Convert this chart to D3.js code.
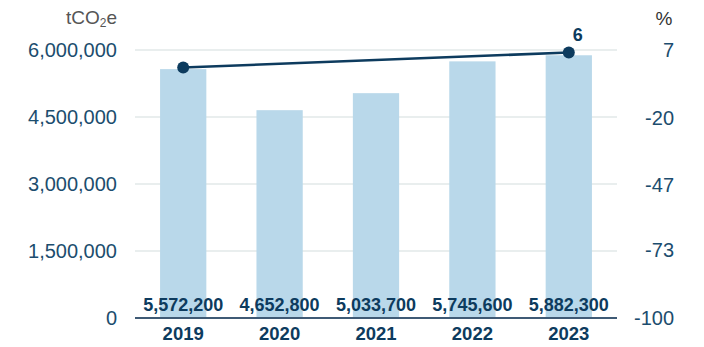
<!DOCTYPE html>
<html>
<head>
<meta charset="utf-8">
<script src="https://cdn.jsdelivr.net/npm/d3@7"></script>
<style>
    body { margin: 0; background: #fff; }
    svg { font-family: "Liberation Sans", Arial, sans-serif; }
</style>
</head>
<body>
<svg id="chart" width="704" height="347"></svg>
<script>
var years = ["2019", "2020", "2021", "2022", "2023"]
var emissions = [5572200, 4652800, 5033700, 5745600, 5882300]
var pctChange = [0, null, null, null, 6]
var leftTicks = [0, 1500000, 3000000, 4500000, 6000000]
var rightTicks = [-100, -73, -47, -20, 7]

const navy = "#0d3b5e"
const axisColor = "#1c4d6e"

var svg = d3.select("#chart")
const margins = {top: 50, right: 87, bottom: 29, left: 135}
const width = 704, height = 347

var xScale = d3.scaleBand()
    .domain(years)
    .range([margins.left, width - margins.right])
    .paddingInner(0.52)
    .paddingOuter(0.26)

var yLeft = d3.scaleLinear()
    .domain([0, 6000000])
    .range([height - margins.bottom, margins.top])

var yRight = d3.scaleLinear()
    .domain([-100, 7])
    .range([height - margins.bottom, margins.top])

// grid lines
svg.append("g").selectAll("line")
    .data(leftTicks.slice(1))
    .join("line")
    .attr("x1", margins.left)
    .attr("x2", width - margins.right)
    .attr("y1", d => yLeft(d))
    .attr("y2", d => yLeft(d))
    .attr("stroke", "#e2e8e8")
    .attr("stroke-width", 1.5)

// left axis
var leftAxis = d3.axisLeft(yLeft).tickValues(leftTicks).tickSize(0).tickPadding(0)
    .tickFormat(d3.format(","))
svg.append("g")
    .attr("transform", "translate(117,0)")
    .call(leftAxis)
    .call(g => g.select(".domain").remove())
    .selectAll("text")
    .attr("fill", axisColor)
    .attr("font-size", 20)
    .attr("font-family", "Liberation Sans, Arial, sans-serif")

// right axis
var rightAxis = d3.axisRight(yRight).tickValues(rightTicks).tickSize(0).tickPadding(0)
    .tickFormat(d => String(d))
svg.append("g")
    .attr("transform", "translate(674,0)")
    .call(rightAxis)
    .call(g => g.select(".domain").remove())
    .selectAll("text")
    .attr("text-anchor", "end")
    .attr("fill", axisColor)
    .attr("font-size", 20)
    .attr("font-family", "Liberation Sans, Arial, sans-serif")

// unit labels
var unit = svg.append("text")
    .attr("x", 117).attr("y", 24)
    .attr("text-anchor", "end")
    .attr("fill", "#555")
    .attr("font-size", 19)
unit.append("tspan").text("tCO")
unit.append("tspan").text("2").attr("font-size", 12).attr("dy", 3)
unit.append("tspan").text("e").attr("dy", -3)

svg.append("text")
    .attr("x", 664).attr("y", 25)
    .attr("text-anchor", "middle")
    .attr("fill", "#333")
    .attr("font-size", 19)
    .text("%")

// bars
svg.append("g").selectAll("rect")
    .data(emissions)
    .join("rect")
    .attr("x", (d, i) => xScale(years[i]))
    .attr("y", d => yLeft(d))
    .attr("width", xScale.bandwidth())
    .attr("height", d => yLeft(0) - yLeft(d))
    .attr("fill", "#b9d8ea")

// baseline
svg.append("line")
    .attr("x1", margins.left).attr("x2", width - margins.right)
    .attr("y1", yLeft(0)).attr("y2", yLeft(0))
    .attr("stroke", "#3f5a75")
    .attr("stroke-width", 2)

// value labels
svg.append("g").selectAll("text")
    .data(emissions)
    .join("text")
    .attr("x", (d, i) => xScale(years[i]) + xScale.bandwidth() / 2)
    .attr("y", 311)
    .attr("text-anchor", "middle")
    .attr("fill", navy)
    .attr("font-size", 18)
    .attr("font-weight", "bold")
    .text(d => d3.format(",")(d))

// year labels
svg.append("g").selectAll("text")
    .data(years)
    .join("text")
    .attr("x", d => xScale(d) + xScale.bandwidth() / 2)
    .attr("y", 340)
    .attr("text-anchor", "middle")
    .attr("fill", navy)
    .attr("font-size", 18.5)
    .attr("font-weight", "bold")
    .text(d => d)

// line of % change
var points = years.map((y, i) => ({year: y, value: pctChange[i]})).filter(d => d.value != null)
var line = d3.line()
    .x(d => xScale(d.year) + xScale.bandwidth() / 2)
    .y(d => yRight(d.value))

svg.append("path")
    .datum(points)
    .attr("d", line)
    .attr("fill", "none")
    .attr("stroke", navy)
    .attr("stroke-width", 2.5)

svg.append("g").selectAll("circle")
    .data(points)
    .join("circle")
    .attr("cx", d => xScale(d.year) + xScale.bandwidth() / 2)
    .attr("cy", d => yRight(d.value))
    .attr("r", 6)
    .attr("fill", navy)

var last = points[points.length - 1]
svg.append("text")
    .attr("x", xScale(last.year) + xScale.bandwidth() / 2 + 9)
    .attr("y", yRight(last.value) - 12)
    .attr("text-anchor", "middle")
    .attr("fill", navy)
    .attr("font-size", 18)
    .attr("font-weight", "bold")
    .text(last.value)
</script>
</body>
</html>
